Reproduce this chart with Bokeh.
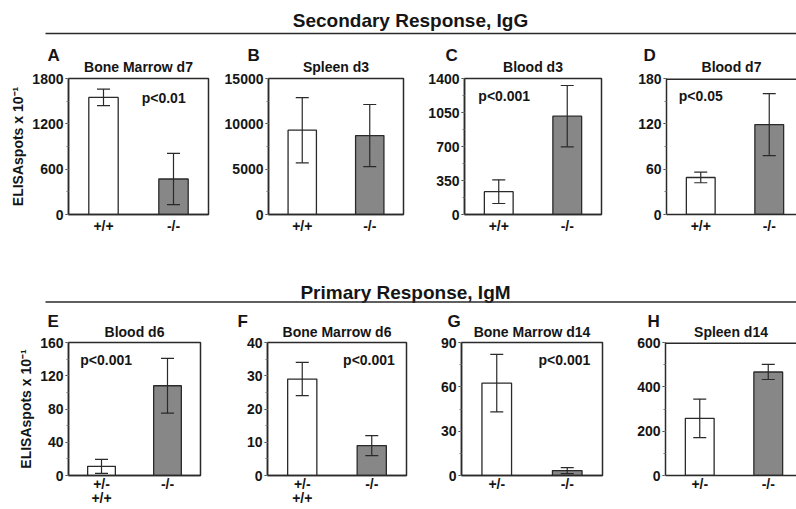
from bokeh.plotting import figure
from bokeh.models import (Range1d, FixedTicker, SingleIntervalTicker, Whisker,
                          ColumnDataSource, Label, Title, Span)
from bokeh.layouts import column, row
from bokeh.embed import file_html
from bokeh.resources import INLINE

FONT = "Liberation Sans"
INK = "#151515"
LINE = "#2a2a2a"
GREY = "#878787"

# ---------------- data ----------------
sec_header = "Secondary Response, IgG"
pri_header = "Primary Response, IgM"
y_label = "ELISAspots x 10\u207b\u00b9"

sec_letters = ["A", "B", "C", "D"]
sec_titles = ["Bone Marrow d7", "Spleen d3", "Blood d3", "Blood d7"]
sec_groups = [["+/+", "-/-"], ["+/+", "-/-"], ["+/+", "-/-"], ["+/+", "-/-"]]
sec_means = [[1550, 470], [9300, 8700], [235, 1012], [49, 119]]
sec_errs = [[110, 340], [3600, 3430], [122, 316], [7, 41]]
sec_ymax = [1800, 15000, 1400, 180]
sec_step = [600, 5000, 350, 60]
sec_pvals = ["p<0.01", "", "p<0.001", "p<0.05"]

pri_letters = ["E", "F", "G", "H"]
pri_titles = ["Blood d6", "Bone Marrow d6", "Bone Marrow d14", "Spleen d14"]
pri_groups = [["+/-\n+/+", "-/-"], ["+/-\n+/+", "-/-"], ["+/-", "-/-"], ["+/-", "-/-"]]
pri_means = [[11, 108], [29, 9], [62.5, 3.3], [258, 467]]
pri_errs = [[8.5, 33], [5, 3], [19.5, 2], [87, 34]]
pri_ymax = [160, 40, 90, 600]
pri_step = [40, 10, 30, 200]
pri_pvals = ["p<0.001", "p<0.001", "p<0.001", ""]

# ---------------- layout constants (pixels / positions) ----------------
# (width, min_border_left, min_border_right, open_right, letter_dx_px)
sec_geom = [(220, 68, 12, False, -21), (205, 48, 22, False, -21),
            (202, 39, 26, False, -19), (169, 39, 0, True, -23)]
pri_geom = [(227, 68, 27, False, -21), (197, 40, 18, False, -30),
            (203, 37, 25, False, -14), (169, 38, 0, True, -18)]
sec_ppos = [(1.36, 0.86), None, (0.58, 0.875), (0.50, 0.875)]
pri_ppos = [(0.57, 0.865), (1.46, 0.865), (1.46, 0.87), None]
# (title standoff, letter standoff)
sec_stand = (7, -23)
pri_stand = (6, -24)
FULL_FRAME_W = 137
PAGE_W = 796


def panel(letter, title, groups, means, errs, ymax, step, ptext, ppos, geom,
          stand, height, mbt, mbb, xlabel_standoff, ylabel=None):
    w, mbl, mbr, open_right, letter_dx = geom
    if open_right:
        x_end = 2.0 * (w - mbl) / FULL_FRAME_W
    else:
        x_end = 2.0
    p = figure(width=w, height=height, title=None, toolbar_location=None,
               output_backend="svg", x_range=Range1d(0, x_end),
               y_range=Range1d(0, ymax), min_border_left=mbl,
               min_border_right=mbr, min_border_top=mbt, min_border_bottom=mbb)
    p.background_fill_color = "white"
    p.border_fill_color = "white"
    p.grid.visible = False
    if open_right:
        p.outline_line_color = None
        p.add_layout(Span(location=ymax, dimension="width", line_color=LINE,
                          line_width=3))
    else:
        p.outline_line_color = LINE
        p.outline_line_width = 1.5
        p.outline_line_alpha = 1.0

    xs = [i + 0.5 for i in range(len(groups))]
    src = ColumnDataSource(dict(
        x=xs, top=means,
        upper=[m + e for m, e in zip(means, errs)],
        lower=[m - e for m, e in zip(means, errs)],
        color=["white", GREY]))
    p.vbar(x="x", top="top", width=0.42, bottom=0, source=src,
           fill_color="color", line_color=LINE, line_width=1.3)
    wh = Whisker(source=src, base="x", upper="upper", lower="lower",
                 line_color=LINE, line_width=1.2, level="overlay")
    for head in (wh.upper_head, wh.lower_head):
        head.size = 13
        head.line_color = LINE
        head.line_width = 1.2
    p.add_layout(wh)

    # axes
    xa = p.xaxis[0]
    xa.ticker = FixedTicker(ticks=xs, minor_ticks=[])
    xa.major_label_overrides = {x: g for x, g in zip(xs, groups)}
    xa.major_tick_out = 0
    xa.major_tick_in = 0
    xa.minor_tick_out = 0
    xa.major_label_standoff = xlabel_standoff
    xa.major_label_text_font = FONT
    xa.major_label_text_font_style = "bold"
    xa.major_label_text_font_size = "14px"
    xa.major_label_text_color = INK
    xa.major_label_text_line_height = 0.93
    xa.axis_line_color = LINE
    xa.axis_line_width = 1.5

    ya = p.yaxis[0]
    ya.ticker = SingleIntervalTicker(interval=step, num_minor_ticks=2)
    ya.major_tick_out = 3
    ya.major_tick_in = 0
    ya.minor_tick_out = 2
    ya.minor_tick_in = 0
    ya.major_tick_line_color = LINE
    ya.minor_tick_line_color = "#777777"
    ya.major_label_standoff = 2
    ya.major_label_text_font = FONT
    ya.major_label_text_font_style = "bold"
    ya.major_label_text_font_size = "14px"
    ya.major_label_text_color = INK
    ya.axis_line_color = LINE
    ya.axis_line_width = 1.5
    if ylabel:
        ya.axis_label = ylabel
        ya.axis_label_text_font = FONT
        ya.axis_label_text_font_style = "bold"
        ya.axis_label_text_font_size = "14px"
        ya.axis_label_text_color = INK
        ya.axis_label_standoff = 3

    title_standoff, letter_standoff = stand
    # titles: panel title (nearest frame), then letter above it
    p.add_layout(Title(text=title, align="center", text_font=FONT,
                       text_font_style="bold", text_font_size="14px",
                       text_color=INK, standoff=title_standoff), "above")
    p.add_layout(Title(text=letter, align="left", offset=letter_dx,
                       text_font=FONT, text_font_style="bold",
                       text_font_size="17px", text_color=INK,
                       standoff=letter_standoff), "above")

    if ptext:
        px, py = ppos
        p.add_layout(Label(x=px, y=py * ymax, text=ptext, text_font=FONT,
                           text_font_style="bold", text_font_size="14px",
                           text_color=INK, text_align="center",
                           text_baseline="middle"))
    return p


def header(text, height, text_x, text_y, line_y, line_x0):
    W = PAGE_W
    h = figure(width=W, height=height, toolbar_location=None,
               output_backend="svg", x_range=Range1d(0, W),
               y_range=Range1d(height, 0), x_axis_location=None,
               y_axis_location=None, min_border=0, title=None)
    h.outline_line_color = None
    h.grid.visible = False
    h.text(x=[text_x], y=[text_y], text=[text], text_font_size="19px",
           text_font_style="bold", text_align="center",
           text_baseline="middle", text_color=INK,
           text_font={"value": FONT})
    h.segment(x0=[line_x0], y0=[line_y], x1=[W], y1=[line_y],
              line_color=LINE, line_width=1.5)
    return h


hdr1 = header(sec_header, 39, 410, 20, 33, 45)
hdr2 = header(pri_header, 41, 405, 30, 39.5, 45)

row1 = []
for i in range(4):
    row1.append(panel(sec_letters[i], sec_titles[i], sec_groups[i], sec_means[i],
                      sec_errs[i], sec_ymax[i], sec_step[i], sec_pvals[i],
                      sec_ppos[i], sec_geom[i], sec_stand, 223, 39, 48, 3,
                      ylabel=y_label if i == 0 else None))
row2 = []
for i in range(4):
    row2.append(panel(pri_letters[i], pri_titles[i], pri_groups[i], pri_means[i],
                      pri_errs[i], pri_ymax[i], pri_step[i], pri_pvals[i],
                      pri_ppos[i], pri_geom[i], pri_stand, 206, 39, 28, 0,
                      ylabel=y_label if i == 0 else None))

layout = column(hdr1, row(*row1), hdr2, row(*row2))
open("out.html", "w").write(file_html(layout, INLINE))
